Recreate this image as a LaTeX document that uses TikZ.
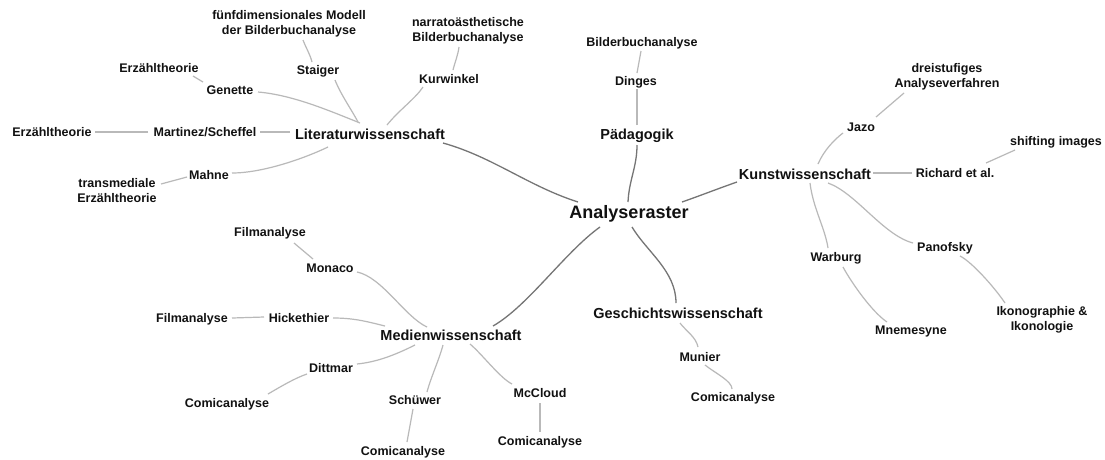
\documentclass[tikz,border=0pt]{standalone}
\usepackage{fontspec}
\setmainfont{Liberation Sans}
\usetikzlibrary{calc}
\definecolor{darkline}{HTML}{757575}
\definecolor{lightline}{HTML}{B9B9B9}
\definecolor{txt}{HTML}{111111}
\begin{document}
\begin{tikzpicture}[x=1pt,y=-1pt,
  leaf/.style={font=\bfseries\fontsize{12.5}{15}\selectfont, align=center, inner sep=0pt, text=txt},
  cat/.style={font=\bfseries\fontsize{14.5}{17}\selectfont, inner sep=0pt, text=txt},
  rootnode/.style={font=\bfseries\fontsize{18}{21}\selectfont, inner sep=0pt, text=txt},
  mainlink/.style={draw=darkline, line width=1.3pt},
  sublink/.style={draw=lightline, line width=1.2pt}]
\fill[white] (0,0) rectangle (1105,459);
\useasboundingbox (0,0) rectangle (1105,459);

% root and categories
\node[rootnode] (root) at (629,214) {Analyseraster};
\node[cat] (lit) at (370,134) {Literaturwissenschaft};
\node[cat] (paed) at (637,136) {Pädagogik};
\node[cat] (kunst) at (805,174) {Kunstwissenschaft};
\node[cat] (medien) at (451,335) {Medienwissenschaft};
\node[cat] (gesch) at (678,313) {Geschichtswissenschaft};

% Literaturwissenschaft
\node[leaf] (fuenf) at (289,24) {fünfdimensionales Modell\\der Bilderbuchanalyse};
\node[leaf] (staiger) at (318,71) {Staiger};
\node[leaf] (narr) at (468,31) {narratoästhetische\\Bilderbuchanalyse};
\node[leaf] (kurw) at (449,79) {Kurwinkel};
\node[leaf] (erzA) at (159,68) {Erzähltheorie};
\node[leaf] (genette) at (230,90) {Genette};
\node[leaf] (erzB) at (52,132) {Erzähltheorie};
\node[leaf] (martinez) at (205,132) {Martinez/Scheffel};
\node[leaf] (mahne) at (209,175) {Mahne};
\node[leaf] (transm) at (117,191) {transmediale\\Erzähltheorie};

% Paedagogik
\node[leaf] (bilder) at (642,43) {Bilderbuchanalyse};
\node[leaf] (dinges) at (636,82) {Dinges};

% Kunstwissenschaft
\node[leaf] (dreist) at (947,77) {dreistufiges\\Analyseverfahren};
\node[leaf] (jazo) at (861,127) {Jazo};
\node[leaf] (richard) at (955,173) {Richard et al.};
\node[leaf] (shifting) at (1056,142) {shifting images};
\node[leaf] (warburg) at (836,258) {Warburg};
\node[leaf] (mnem) at (911,331) {Mnemesyne};
\node[leaf] (panofsky) at (945,248) {Panofsky};
\node[leaf] (ikon) at (1042,320) {Ikonographie \&\\Ikonologie};

% Medienwissenschaft
\node[leaf] (filmA) at (270,233) {Filmanalyse};
\node[leaf] (monaco) at (330,268) {Monaco};
\node[leaf] (filmB) at (192,319) {Filmanalyse};
\node[leaf] (hick) at (299,318) {Hickethier};
\node[leaf] (dittmar) at (331,368) {Dittmar};
\node[leaf] (comicA) at (227,404) {Comicanalyse};
\node[leaf] (schuewer) at (415,400) {Schüwer};
\node[leaf] (comicB) at (403,452) {Comicanalyse};
\node[leaf] (mccloud) at (540,393) {McCloud};
\node[leaf] (comicC) at (540,442) {Comicanalyse};

% Geschichtswissenschaft
\node[leaf] (munier) at (700,357) {Munier};
\node[leaf] (comicD) at (733,398) {Comicanalyse};

% main links
\draw[mainlink] ($(lit)+(73,9)$) .. controls +(50,14) and +(-50,-16) .. ($(root)+(-51,-12)$);
\draw[mainlink] ($(paed)+(0,9)$) .. controls +(0,22) and +(1,-22) .. ($(root)+(-1,-12)$);
\draw[mainlink] ($(root)+(53,-12)$) .. controls +(20,-7) and +(-20,7) .. ($(kunst)+(-68,8)$);
\draw[mainlink] ($(root)+(-29,13)$) .. controls +(-35,25) and +(35,-20) .. ($(medien)+(42,-9)$);
\draw[mainlink] ($(root)+(3,13)$) .. controls +(15,25) and +(0,-32) .. ($(gesch)+(-2,-10)$);

% Literaturwissenschaft links
\draw[sublink] ($(lit)+(-10,-11)$) .. controls +(-30,-12) and +(35,3) .. ($(genette)+(28,2)$);
\draw[sublink] ($(lit)+(-12,-12)$) .. controls +(-8,-15) and +(6,15) .. ($(staiger)+(17,9)$);
\draw[sublink] ($(lit)+(17,-9)$) .. controls +(12,-15) and +(-8,12) .. ($(kurw)+(-26,8)$);
\draw[sublink] ($(lit)+(-80,-2)$) -- ($(martinez)+(55,0)$);
\draw[sublink] ($(lit)+(-42,13)$) .. controls +(-25,12) and +(30,0) .. ($(mahne)+(23,-2)$);
\draw[sublink] ($(genette)+(-27,-8)$) -- ($(erzA)+(34,8)$);
\draw[sublink] ($(staiger)+(-6,-9)$) .. controls +(-2,-8) and +(3,8) .. ($(fuenf)+(14,16)$);
\draw[sublink] ($(kurw)+(4,-9)$) .. controls +(2,-8) and +(-1,8) .. ($(narr)+(-9,16)$);
\draw[sublink] ($(martinez)+(-57,0)$) -- ($(erzB)+(43,0)$);
\draw[sublink] ($(mahne)+(-22,2)$) -- ($(transm)+(44,-7)$);

% Paedagogik links
\draw[sublink] ($(paed)+(0,-11)$) -- ($(dinges)+(1,7)$);
\draw[sublink] ($(dinges)+(1,-9)$) -- ($(bilder)+(-1,8)$);

% Kunstwissenschaft links
\draw[sublink] ($(kunst)+(13,-10)$) .. controls +(6,-14) and +(-8,6) .. ($(jazo)+(-18,6)$);
\draw[sublink] ($(jazo)+(15,-10)$) -- ($(dreist)+(-43,16)$);
\draw[sublink] ($(kunst)+(68,-1)$) -- ($(richard)+(-43,0)$);
\draw[sublink] ($(richard)+(31,-10)$) -- ($(shifting)+(-41,8)$);
\draw[sublink] ($(kunst)+(5,9)$) .. controls +(3,25) and +(-3,-20) .. ($(warburg)+(-8,-10)$);
\draw[sublink] ($(kunst)+(23,9)$) .. controls +(28,10) and +(-30,-8) .. ($(panofsky)+(-32,-5)$);
\draw[sublink] ($(warburg)+(7,9)$) .. controls +(8,15) and +(-15,-10) .. ($(mnem)+(-24,-9)$);
\draw[sublink] ($(panofsky)+(15,8)$) .. controls +(12,6) and +(-10,-15) .. ($(ikon)+(-37,-17)$);

% Medienwissenschaft links
\draw[sublink] ($(medien)+(-24,-8)$) .. controls +(-22,-10) and +(25,5) .. ($(monaco)+(27,4)$);
\draw[sublink] ($(monaco)+(-17,-9)$) -- ($(filmA)+(24,10)$);
\draw[sublink] ($(medien)+(-66,-9)$) .. controls +(-20,-5) and +(20,0) .. ($(hick)+(34,0)$);
\draw[sublink] ($(hick)+(-35,-1)$) -- ($(filmB)+(40,-1)$);
\draw[sublink] ($(medien)+(-36,10)$) .. controls +(-20,10) and +(20,-2) .. ($(dittmar)+(26,-4)$);
\draw[sublink] ($(dittmar)+(-24,6)$) .. controls +(-12,4) and +(12,-7) .. ($(comicA)+(41,-10)$);
\draw[sublink] ($(medien)+(-8,10)$) .. controls +(-4,15) and +(4,-15) .. ($(schuewer)+(12,-8)$);
\draw[sublink] ($(schuewer)+(-2,9)$) -- ($(comicB)+(4,-10)$);
\draw[sublink] ($(medien)+(19,9)$) .. controls +(12,10) and +(-12,-6) .. ($(mccloud)+(-28,-9)$);
\draw[sublink] ($(mccloud)+(0,10)$) -- ($(comicC)+(0,-10)$);

% Geschichtswissenschaft links
\draw[sublink] ($(gesch)+(2,10)$) .. controls +(6,8) and +(-2,-10) .. ($(munier)+(-2,-10)$);
\draw[sublink] ($(munier)+(5,8)$) .. controls +(10,8) and +(0,-8) .. ($(comicD)+(-1,-9)$);
\end{tikzpicture}
\end{document}
